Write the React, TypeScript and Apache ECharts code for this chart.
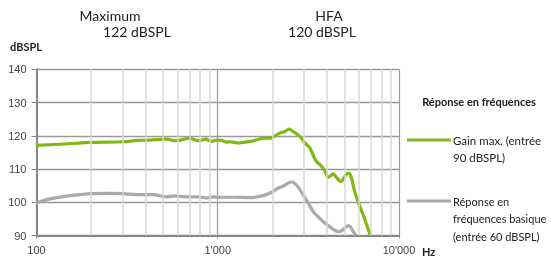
import React, { useEffect, useRef } from "react";
import * as echarts from "echarts";

const gainFreqs = [100, 150, 200, 300, 360, 420, 523, 585, 672, 700, 764, 800, 850, 925, 985, 1050, 1120, 1166, 1230, 1295, 1400, 1506, 1650, 1780, 1940, 2050, 2200, 2350, 2465, 2600, 2765, 2900, 3030, 3225, 3400, 3505, 3735, 3900, 4060, 4200, 4330, 4500, 4750, 4900, 5100, 5290, 5450, 5700, 6090, 6350, 6600, 6960];
const gainValues = [117.1, 117.6, 118.0, 118.2, 118.6, 118.7, 119.0, 118.5, 119.1, 119.2, 118.6, 118.5, 119.0, 118.3, 118.7, 118.6, 118.1, 118.2, 118.0, 117.8, 118.1, 118.3, 118.8, 119.3, 119.3, 119.8, 120.8, 121.3, 122.0, 121.3, 120.3, 119.2, 117.8, 116.3, 113.5, 112.3, 110.8, 109.5, 107.5, 108.0, 108.6, 107.6, 106.3, 106.8, 108.3, 108.8, 107.5, 103.2, 98.6, 96.2, 93.5, 90.0];

const basicFreqs = [100, 119, 153, 174, 197, 250, 301, 372, 440, 523, 580, 672, 780, 868, 944, 1000, 1200, 1506, 1780, 1980, 2160, 2300, 2450, 2580, 2700, 2765, 2900, 3030, 3200, 3360, 3600, 3810, 4230, 4650, 4900, 5100, 5290, 5450, 5580, 5800];
const basicValues = [99.8, 101.0, 102.0, 102.3, 102.6, 102.7, 102.6, 102.3, 102.3, 101.6, 101.9, 101.6, 101.6, 101.3, 101.6, 101.5, 101.5, 101.4, 102.0, 103.0, 104.3, 104.9, 105.8, 106.1, 105.3, 104.7, 103.0, 101.3, 99.2, 97.2, 95.5, 94.2, 92.3, 91.1, 91.7, 92.6, 93.0, 92.3, 91.2, 90.0];

const minorFreqs = [200, 300, 400, 500, 600, 700, 800, 900, 2000, 3000, 4000, 5000, 6000, 7000, 8000, 9000];
const xTickLabels: Record<number, string> = { 100: "100", 1000: "1'000", 10000: "10'000" };

const headerLines = [
  { text: "Maximum", x: 110, y: 15 },
  { text: "122 dBSPL", x: 137, y: 31 },
  { text: "HFA", x: 329, y: 15 },
  { text: "120 dBSPL", x: 322, y: 31 },
];

const legendTitle = "Réponse en fréquences";
const legendGain = ["Gain max. (entrée", "90 dBSPL)"];
const legendBasic = ["Réponse en", "fréquences basique", "(entrée 60 dBSPL)"];

const GREEN = "#80b814";
const GRAY = "#aaaaaa";
const FONT = "Lato";

export default function App() {
  const ref = useRef<HTMLDivElement>(null);
  useEffect(() => {
    const chart = echarts.init(ref.current!, null, { renderer: "svg" });
    const graphic: any[] = [];
    headerLines.forEach((h) => {
      graphic.push({
        type: "text",
        x: h.x,
        y: h.y,
        style: { text: h.text, font: `14px ${FONT}`, fill: "#222", textAlign: "center", textVerticalAlign: "middle" },
      });
    });
    graphic.push({
      type: "text", x: 10, y: 46,
      style: { text: "dBSPL", font: `bold 11px ${FONT}`, fill: "#222", textVerticalAlign: "middle" },
    });
    graphic.push({
      type: "text", x: 422, y: 251,
      style: { text: "Hz", font: `bold 11px ${FONT}`, fill: "#222", textVerticalAlign: "middle" },
    });
    graphic.push({
      type: "text", x: 479, y: 101,
      style: { text: legendTitle, font: `bold 11px ${FONT}`, fill: "#222", textAlign: "center", textVerticalAlign: "middle" },
    });
    graphic.push({ type: "line", shape: { x1: 407, y1: 140, x2: 451, y2: 140 }, style: { stroke: GREEN, lineWidth: 3 } });
    legendGain.forEach((t, i) => {
      graphic.push({
        type: "text", x: 453, y: 140 + i * 17,
        style: { text: t, font: `11.5px ${FONT}`, fill: "#222", textVerticalAlign: "middle" },
      });
    });
    graphic.push({ type: "line", shape: { x1: 407, y1: 201, x2: 451, y2: 201 }, style: { stroke: GRAY, lineWidth: 3 } });
    legendBasic.forEach((t, i) => {
      graphic.push({
        type: "text", x: 453, y: 201 + i * 17.5,
        style: { text: t, font: `11px ${FONT}`, fill: "#222", textVerticalAlign: "middle" },
      });
    });

    chart.setOption({
      animation: false,
      grid: { left: 36.5, right: 152, top: 69.3, bottom: 25.5 },
      xAxis: {
        type: "log",
        logBase: 10,
        min: 100,
        max: 10000,
        axisLine: { show: true, onZero: false, lineStyle: { color: "#888", width: 2 } },
        axisTick: { show: true, length: 3, lineStyle: { color: "#888" } },
        axisLabel: {
          margin: 9,
          color: "#444",
          fontSize: 11,
          fontFamily: "Liberation Sans",
          formatter: (v: number) => xTickLabels[Math.round(v)] ?? "",
        },
        splitLine: { show: true, lineStyle: { color: "#999", width: 1.2 } },
        minorTick: { show: false },
      },
      yAxis: {
        type: "value",
        min: 90,
        max: 140,
        interval: 10,
        axisLine: { show: true, lineStyle: { color: "#888", width: 2 } },
        axisTick: { show: true, length: 5, lineStyle: { color: "#888" } },
        axisLabel: { margin: 10, color: "#444", fontSize: 11, fontFamily: "Liberation Sans" },
        splitLine: { show: true, lineStyle: { color: "#999", width: 1.3 } },
      },
      graphic,
      series: [
        {
          type: "line",
          data: [],
          z: 1,
          silent: true,
          markLine: {
            silent: true,
            symbol: "none",
            label: { show: false },
            lineStyle: { color: "#d8d8d8", width: 1.5, type: "solid" },
            data: minorFreqs.map((f) => ({ xAxis: f })),
          },
        },
        {
          type: "line",
          name: "Gain max.",
          data: gainFreqs.map((f, i) => [f, gainValues[i]]),
          showSymbol: false,
          smooth: 0.3,
          z: 4,
          lineStyle: { color: GREEN, width: 3.2 },
        },
        {
          type: "line",
          name: "Réponse basique",
          data: basicFreqs.map((f, i) => [f, basicValues[i]]),
          showSymbol: false,
          smooth: 0.3,
          z: 3,
          lineStyle: { color: GRAY, width: 3.2 },
        },
      ],
    });
    return () => chart.dispose();
  }, []);
  return <div ref={ref} style={{ position: "fixed", left: 0, top: 0, width: 551, height: 261 }} />;
}
